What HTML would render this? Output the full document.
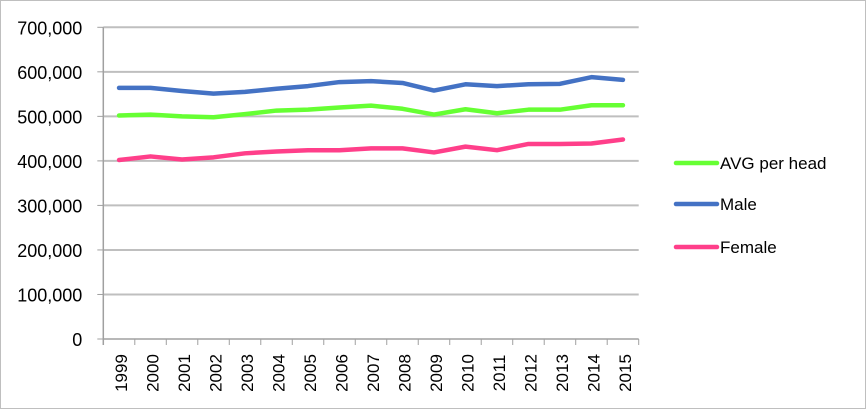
<!DOCTYPE html>
<html><head><meta charset="utf-8"><style>
html,body{margin:0;padding:0;background:#fff;}
svg{display:block;font-family:"Liberation Sans",Arial,sans-serif;}
</style></head><body>
<svg id="chart" width="867" height="410">
<rect x="0.5" y="0.5" width="865" height="408" fill="#fff" stroke="#bfbfbf"/>
<g id="grid"></g><g id="axes"></g><g id="series"></g><g id="legend"></g>
</svg>
<script>
const years=["1999","2000","2001","2002","2003","2004","2005","2006","2007","2008","2009","2010","2011","2012","2013","2014","2015"];
const avgValues=[502000,504000,500000,498000,505000,513000,515000,520000,524000,517000,504000,516000,507000,515000,515000,525000,525000];
const maleValues=[564000,564000,557000,551000,555000,562000,568000,577000,579000,575000,558000,572000,568000,572000,573000,588000,582000];
const femaleValues=[402000,410000,403000,408000,417000,421000,424000,424000,428000,428000,419000,432000,424000,438000,438000,439000,448000];
const yTicks=[0,100000,200000,300000,400000,500000,600000,700000];
const seriesNames=["AVG per head","Male","Female"];
const NS="http://www.w3.org/2000/svg";
const L=103.3,R=638.7,T=27.3,B=339,YMAX=700000;
const bw=(R-L)/years.length;
const xs=i=>L+bw*(i+0.5);
const ys=v=>B-(v/YMAX)*(B-T);
function mk(tag,attrs,parent){const e=document.createElementNS(NS,tag);for(const k in attrs)e.setAttribute(k,attrs[k]);parent.appendChild(e);return e;}
const grid=document.getElementById('grid'),axes=document.getElementById('axes'),ser=document.getElementById('series'),leg=document.getElementById('legend');
yTicks.forEach(v=>{
  const y=ys(v);
  if(v>0){const g=mk('line',{x1:L,x2:R,y1:y,y2:y,stroke:'#bfbfbf','stroke-width':2},grid);
  
  }
  const tk=mk('line',{x1:L-6,x2:L,y1:y,y2:y,stroke:'#a0a0a0','stroke-width':1},axes);
  
  
  const t=mk('text',{x:L-21,y:y+7,'text-anchor':'end','font-size':18,fill:'#000'},axes);
  t.textContent=v.toLocaleString('en-US');
  
  
});
const ya=mk('line',{x1:L,x2:L,y1:T,y2:B+6,stroke:'#a0a0a0','stroke-width':1.5},axes);


const xa=mk('line',{x1:L,x2:R,y1:B,y2:B,stroke:'#a0a0a0','stroke-width':1.5},axes);


years.forEach((yr,i)=>{
  const x=L+bw*(i+1);
  const tk=mk('line',{x1:x,x2:x,y1:B,y2:B+6,stroke:'#a0a0a0','stroke-width':1},axes);
  
  
  const cx=xs(i);
  const t=mk('text',{x:0,y:0,'font-size':17,fill:'#000',transform:`translate(${cx+8},373) rotate(-90)`,'text-anchor':'middle'},axes);
  t.textContent=yr;
  
  
});
const all=[[avgValues,'#66ff33','avg-per-head-line'],[maleValues,'#4472c4','male-line'],[femaleValues,'#ff3f8a','female-line']];
all.forEach(([vals,col,name])=>{
  const p=mk('polyline',{points:vals.map((v,i)=>xs(i)+','+ys(v)).join(' '),fill:'none',stroke:col,'stroke-width':4.5,'stroke-linejoin':'round','stroke-linecap':'round'},ser);
  
  
});
const legY=[163,204,247];
all.forEach(([vals,col,name],i)=>{
  const g=mk('g',{},leg);
  
  
  mk('line',{x1:676,x2:717,y1:legY[i],y2:legY[i],stroke:col,'stroke-width':4.5,'stroke-linecap':'round'},g);
  const t=mk('text',{x:720,y:legY[i]+6,'font-size':17,fill:'#000'},g);
  t.textContent=seriesNames[i];
});
</script>
</body></html>
